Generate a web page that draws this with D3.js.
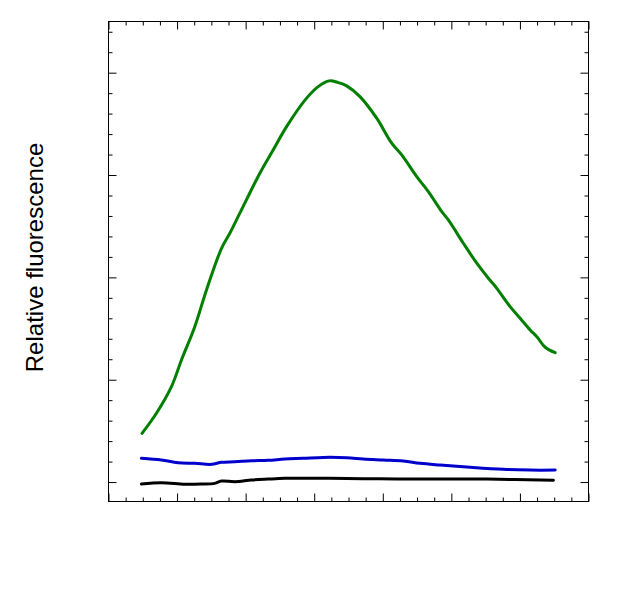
<!DOCTYPE html>
<html>
<head>
<meta charset="utf-8">
<script src="https://cdn.jsdelivr.net/npm/d3@7"></script>
<style>
html, body { margin: 0; padding: 0; background: #fff; }
svg { display: block; }
</style>
</head>
<body>
<svg id="chart" width="636" height="612"></svg>
<script>
// ---- data (x in major-tick units, y in relative fluorescence units) ----
const greenX = [0.489, 0.699, 0.918, 1.064, 1.258, 1.429, 1.648, 1.769, 1.915, 2.207, 2.401, 2.597, 2.889, 3.058, 3.219, 3.350, 3.473, 3.667, 3.911, 4.130, 4.276, 4.495, 4.664, 4.860, 4.956, 5.175, 5.371, 5.540, 5.663, 5.857, 6.003, 6.149, 6.247, 6.368, 6.514];
const greenY = [0.476, 0.672, 0.932, 1.193, 1.518, 1.877, 2.284, 2.431, 2.627, 3.018, 3.245, 3.473, 3.751, 3.864, 3.920, 3.903, 3.871, 3.766, 3.555, 3.311, 3.196, 2.984, 2.838, 2.642, 2.561, 2.333, 2.138, 1.991, 1.893, 1.714, 1.600, 1.486, 1.420, 1.317, 1.264];

const blueX = [0.48, 0.772, 1.015, 1.258, 1.502, 1.648, 1.842, 2.086, 2.328, 2.572, 2.839, 3.131, 3.473, 3.715, 4.007, 4.299, 4.543, 4.835, 5.273, 5.759, 6.149, 6.514];
const blueY = [0.232, 0.215, 0.189, 0.183, 0.173, 0.193, 0.198, 0.208, 0.212, 0.225, 0.232, 0.241, 0.238, 0.225, 0.215, 0.205, 0.183, 0.166, 0.144, 0.124, 0.117, 0.117];

const blackX = [0.48, 0.772, 1.112, 1.356, 1.550, 1.648, 1.842, 2.086, 2.328, 2.572, 3.229, 3.959, 4.689, 5.517, 6.489];
const blackY = [-0.020, -0.007, -0.022, -0.020, -0.013, 0.010, 0.003, 0.020, 0.029, 0.036, 0.036, 0.032, 0.029, 0.029, 0.017];

const xMajorTicks = [0, 1, 2, 3, 4, 5, 6, 7];
const xMinorTicks = [0.25, 0.5, 0.75, 1.25, 1.5, 1.75, 2.25, 2.5, 2.75, 3.25, 3.5, 3.75, 4.25, 4.5, 4.75, 5.25, 5.5, 5.75, 6.25, 6.5, 6.75];
const yMajorTicks = [0, 1, 2, 3, 4];
const yMinorTicks = [0.2, 0.4, 0.6, 0.8, 1.2, 1.4, 1.6, 1.8, 2.2, 2.4, 2.6, 2.8, 3.2, 3.4, 3.6, 3.8, 4.2, 4.4];

const yLabel = "Relative fluorescence";

// ---- layout ----
const pLeft = 108.5, pRight = 588.5, pTop = 21.5, pBottom = 501.5;
const svg = d3.select("#chart");

const x = d3.scaleLinear().domain([0, 7]).range([pLeft, pRight]);
const y = d3.scaleLinear().domain([-0.19, 4.5]).range([pBottom, pTop]);

function styleAxis(g) {
  g.select(".domain").remove();
  g.selectAll(".tick line").attr("stroke", "#000").attr("stroke-width", 1);
  g.selectAll(".tick text").remove();
}

const MAJ = 8, MIN = 4;
// bottom
svg.append("g").attr("transform", `translate(0,${pBottom})`)
  .call(d3.axisBottom(x).tickValues(xMajorTicks).tickSize(-MAJ).tickFormat("")).call(styleAxis);
svg.append("g").attr("transform", `translate(0,${pBottom})`)
  .call(d3.axisBottom(x).tickValues(xMinorTicks).tickSize(-MIN).tickFormat("")).call(styleAxis);
// top
svg.append("g").attr("transform", `translate(0,${pTop})`)
  .call(d3.axisTop(x).tickValues(xMajorTicks).tickSize(-MAJ).tickFormat("")).call(styleAxis);
svg.append("g").attr("transform", `translate(0,${pTop})`)
  .call(d3.axisTop(x).tickValues(xMinorTicks).tickSize(-MIN).tickFormat("")).call(styleAxis);
// left
svg.append("g").attr("transform", `translate(${pLeft},0)`)
  .call(d3.axisLeft(y).tickValues(yMajorTicks).tickSize(-MAJ).tickFormat("")).call(styleAxis);
svg.append("g").attr("transform", `translate(${pLeft},0)`)
  .call(d3.axisLeft(y).tickValues(yMinorTicks).tickSize(-MIN).tickFormat("")).call(styleAxis);
// right
svg.append("g").attr("transform", `translate(${pRight},0)`)
  .call(d3.axisRight(y).tickValues(yMajorTicks).tickSize(-MAJ).tickFormat("")).call(styleAxis);
svg.append("g").attr("transform", `translate(${pRight},0)`)
  .call(d3.axisRight(y).tickValues(yMinorTicks).tickSize(-MIN).tickFormat("")).call(styleAxis);

// frame
svg.append("rect")
  .attr("x", pLeft).attr("y", pTop)
  .attr("width", pRight - pLeft).attr("height", pBottom - pTop)
  .attr("fill", "none").attr("stroke", "#000").attr("stroke-width", 1);

// lines
const line = d3.line().x(d => x(d[0])).y(d => y(d[1])).curve(d3.curveCatmullRom.alpha(0.5));
const series = [
  { xs: blackX, ys: blackY, color: "#000000" },
  { xs: blueX, ys: blueY, color: "#0000cc" },
  { xs: greenX, ys: greenY, color: "#007f00" }
];
series.forEach(s => {
  svg.append("path")
    .datum(s.xs.map((v, i) => [v, s.ys[i]]))
    .attr("d", line)
    .attr("fill", "none")
    .attr("stroke", s.color)
    .attr("stroke-width", 3)
    .attr("stroke-linejoin", "round")
    .attr("stroke-linecap", "round");
});

// y label
svg.append("text")
  .attr("transform", `translate(43,257.5) rotate(-90)`)
  .attr("text-anchor", "middle")
  .attr("font-family", "Liberation Sans, Arial, Helvetica, sans-serif")
  .attr("font-size", 24)
  .attr("fill", "#000")
  .text(yLabel);
</script>
</body>
</html>
